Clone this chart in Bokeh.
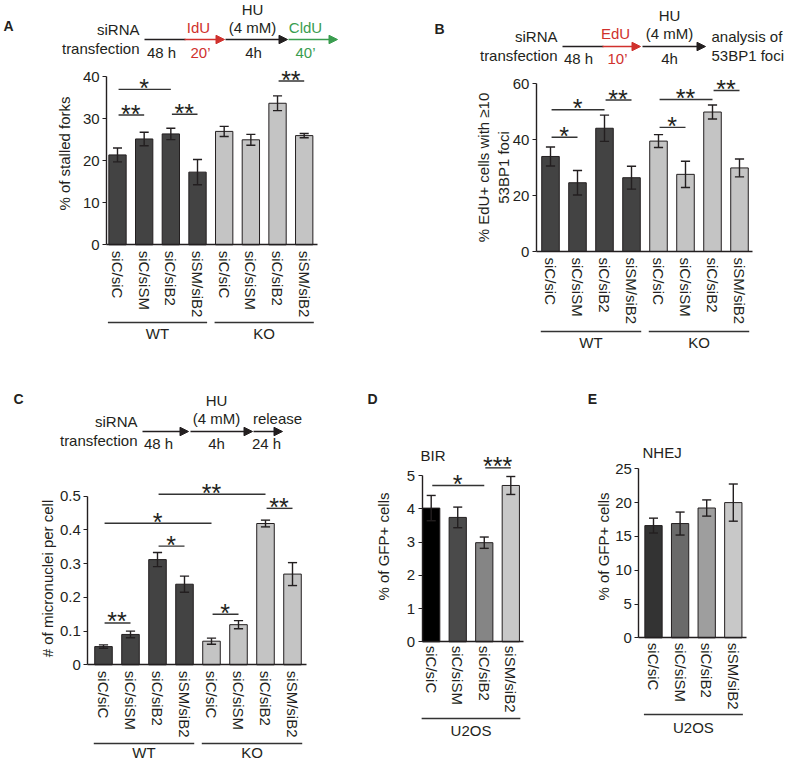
from bokeh.plotting import figure
from bokeh.models import Range1d, LinearAxis, FixedTicker, Arrow, NormalHead
from bokeh.core.properties import value
from bokeh.embed import file_html
from bokeh.resources import INLINE

# ---------------- data ----------------
conditions = ["siC/siC", "siC/siSM", "siC/siB2", "siSM/siB2"]
conditions8 = conditions + conditions
genotype_groups = [("WT", 0, 3), ("KO", 4, 7)]
cell_groups = [("U2OS", 0, 3)]

# A: % of stalled forks
a_values = [21.4, 25.2, 26.4, 17.3, 27.0, 25.0, 33.7, 26.0]
a_errors = [1.65, 1.6, 1.35, 3.0, 1.2, 1.3, 1.75, 0.5]
a_ticks = [0, 10, 20, 30, 40]
a_sig = [(0, 2, 37.0, "*"), (0, 1, 30.9, "**"), (2, 3, 31.1, "**"), (6, 7, 39.0, "**")]

# B: % EdU+ cells with >=10 53BP1 foci
b_values = [34.0, 24.6, 44.1, 26.4, 39.5, 27.6, 49.9, 29.9]
b_errors = [3.4, 4.4, 4.7, 4.1, 2.3, 4.7, 2.5, 3.2]
b_ticks = [0, 20, 40, 60]
b_sig = [(0, 2, 50.7, "*"), (0, 1, 40.9, "*"), (2, 3, 54.2, "**"),
         (4, 6, 54.4, "**"), (4, 5, 44.4, "*"), (6, 7, 57.6, "**")]

# C: # of micronuclei per cell
c_values = [0.054, 0.090, 0.312, 0.239, 0.070, 0.119, 0.419, 0.269]
c_errors = [0.005, 0.010, 0.021, 0.024, 0.009, 0.012, 0.010, 0.034]
c_ticks = [0, 0.1, 0.2, 0.3, 0.4, 0.5]
c_tick_labels = ["0", "0.1", "0.2", "0.3", "0.4", "0.5"]
c_sig = [(0, 1, 0.124, "**"), (0, 4, 0.420, "*"), (2, 3, 0.352, "*"),
         (2, 6, 0.506, "**"), (4, 5, 0.150, "*"), (6, 7, 0.464, "**")]

# D: BIR, % of GFP+ cells
d_values = [4.02, 3.74, 2.98, 4.70]
d_errors = [0.38, 0.31, 0.17, 0.27]
d_ticks = [0, 1, 2, 3, 4, 5]
d_sig = [(0, 2, 4.70, "*"), (2, 3, 5.23, "***")]

# E: NHEJ, % of GFP+ cells
e_values = [16.6, 16.9, 19.2, 20.0]
e_errors = [1.1, 1.7, 1.2, 2.75]
e_ticks = [0, 5, 10, 15, 20, 25]

# ---------------- style ----------------
FONT = "Liberation Sans"
TXT = "#231f20"
DARK = "#434343"
LIGHT = "#c4c4c4"
RED = "#d0312d"
GREEN = "#3a9d4f"
FS = "15px"
ab_colors = [DARK] * 4 + [LIGHT] * 4
d_colors = ["#000000", "#4a4a4a", "#858585", "#c8c8c8"]
e_colors = ["#333333", "#6a6a6a", "#9e9e9e", "#c8c8c8"]

W, H = 787, 761
X0, Y0 = 0, 0  # page offset of the canvas

p = figure(width=W, height=H, x_range=Range1d(X0, X0 + W), y_range=Range1d(Y0 + H, Y0),
           x_axis_type=None, y_axis_type=None, toolbar_location=None,
           output_backend="svg", min_border=0, outline_line_color=None)
p.min_border_left = p.min_border_right = p.min_border_top = p.min_border_bottom = 0
p.background_fill_color = "white"
p.border_fill_color = "white"


def txt(x, y, s, size=FS, align="center", baseline="middle", angle=0.0, color=TXT,
        bold=False, xr="default", yr="default", font=FONT, y_offset=0):
    p.text(x=[x], y=[y], text=[s], text_font=value(font), text_font_size=size,
           text_align=align, text_baseline=baseline, angle=angle, text_color=color,
           text_font_style="bold" if bold else "normal",
           x_range_name=xr, y_range_name=yr, y_offset=y_offset)


def line(x0, x1, y, color=TXT, width=1.4):
    p.segment(x0=[x0], y0=[y], x1=[x1], y1=[y], line_color=color, line_width=width)


def arrow(x0, x1, y, color=TXT):
    p.add_layout(Arrow(x_start=x0, y_start=y, x_end=x1, y_end=y, line_color=color,
                       line_width=1.6,
                       end=NormalHead(size=8.5, fill_color=color, line_color=color,
                                      line_width=1)))


def chart(key, vals, errs, colors, labels, x_first, x_last, y_zero, y_top_px, ytop,
          yticks, xl, xr, standoff, sig=(), groups=(), group_y=0, group_label_y=0,
          overrides=None):
    n = len(vals)
    sx = (x_last - x_first) / (n - 1)
    xn, yn = "x" + key, "y" + key
    p.extra_x_ranges[xn] = Range1d(-(x_first - X0) / sx, (X0 + W - x_first) / sx)
    sy = (y_zero - y_top_px) / ytop
    p.extra_y_ranges[yn] = Range1d(-(Y0 + H - y_zero) / sy, (y_zero - Y0) / sy)
    idx = list(range(n))
    p.vbar(x=idx, top=vals, bottom=0, width=0.65, fill_color=colors, line_color=TXT,
           line_width=1, x_range_name=xn, y_range_name=yn)
    lo = [v - e for v, e in zip(vals, errs)]
    hi = [v + e for v, e in zip(vals, errs)]
    p.segment(x0=idx, y0=lo, x1=idx, y1=hi, line_color=TXT, line_width=1.4,
              x_range_name=xn, y_range_name=yn)
    cap = 0.17
    p.segment(x0=[i - cap for i in idx] * 2, y0=lo + hi, x1=[i + cap for i in idx] * 2,
              y1=lo + hi, line_color=TXT, line_width=1.4, x_range_name=xn, y_range_name=yn)

    yax = LinearAxis(x_range_name=xn, y_range_name=yn, fixed_location=xl, bounds=(0, ytop),
                     ticker=FixedTicker(ticks=yticks), axis_line_color=TXT,
                     axis_line_width=1.4, major_tick_line_color=TXT, major_tick_line_width=1.2,
                     major_tick_out=4, major_tick_in=0, minor_tick_line_color=None,
                     major_label_standoff=3, major_label_text_font=FONT,
                     major_label_text_font_size=FS, major_label_text_color=TXT)
    if overrides:
        yax.major_label_overrides = overrides
    p.add_layout(yax, "left")
    xax = LinearAxis(x_range_name=xn, y_range_name=yn, fixed_location=0, bounds=(xl, xr),
                     ticker=FixedTicker(ticks=idx),
                     major_label_overrides={i: lab for i, lab in enumerate(labels)},
                     major_label_orientation="vertical", axis_line_color=TXT,
                     axis_line_width=1.4, major_tick_line_color=None, major_tick_out=0,
                     major_tick_in=0, minor_tick_line_color=None,
                     major_label_standoff=standoff, major_label_text_font=FONT,
                     major_label_text_font_size=FS, major_label_text_color=TXT)
    p.add_layout(xax, "below")

    for i, j, yv, stars in sig:
        p.segment(x0=[i + 0.04], y0=[yv], x1=[j], y1=[yv], line_color="#333333",
                  line_width=1.4, x_range_name=xn, y_range_name=yn)
        txt((i + j) / 2, yv, stars, size="25px", baseline="alphabetic", xr=xn, yr=yn,
            y_offset=-1.5)
    for g, a, b in groups:
        p.segment(x0=[a - 0.36], y0=[group_y], x1=[b + 0.36], y1=[group_y],
                  line_color="#333333", line_width=1.4, x_range_name=xn)
        txt((a + b) / 2, group_label_y, g, xr=xn)


# ---------------- panel A ----------------
txt(8, 25, "A", size="14px", bold=True)
txt(139, 29, "siRNA", align="right")
txt(139, 48, "transfection", align="right")
line(144, 185, 39)
arrow(184, 224, 39, RED)
arrow(225, 287, 39)
arrow(288, 337, 39, GREEN)
txt(161, 52, "48 h")
txt(198, 27, "IdU", color=RED)
txt(200, 52, "20\u2019", color=RED)
txt(252, 8.5, "HU")
txt(252, 27, "(4 mM)")
txt(253, 52, "4h")
txt(305, 27, "CldU", color=GREEN)
txt(305, 52, "40\u2019", color=GREEN)
txt(64, 153, "% of stalled forks", angle=1.5708)
chart("A", a_values, a_errors, ab_colors, conditions8, 117, 303.7, 244.3, 76.3, 40,
      a_ticks, -0.41, 7.5, 6, sig=a_sig, groups=genotype_groups, group_y=322,
      group_label_y=333)

# ---------------- panel B ----------------
txt(439, 28, "B", size="14px", bold=True)
txt(557, 36, "siRNA", align="right")
txt(557, 55, "transfection", align="right")
line(562, 603, 46)
arrow(602, 640, 46, RED)
arrow(642, 705, 46)
txt(578, 58, "48 h")
txt(615, 33, "EdU", color=RED)
txt(617, 58, "10\u2019", color=RED)
txt(669, 15, "HU")
txt(669, 33, "(4 mM)")
txt(669, 58, "4h")
txt(711, 36, "analysis of", align="left")
txt(711, 55, "53BP1 foci", align="left")
txt(483, 167, "% EdU+ cells with \u226510", angle=1.5708)
txt(503, 167, "53BP1 foci", angle=1.5708)
chart("B", b_values, b_errors, ab_colors, conditions8, 550, 739, 251, 83.3, 60,
      b_ticks, -0.52, 7.48, 6, sig=b_sig, groups=genotype_groups, group_y=331,
      group_label_y=342)

# ---------------- panel C ----------------
txt(18, 398, "C", size="14px", bold=True)
txt(137, 421, "siRNA", align="right")
txt(137, 440, "transfection", align="right")
arrow(142, 188, 431)
arrow(190, 252, 431)
arrow(253, 282, 431)
txt(158, 443, "48 h")
txt(216, 400, "HU")
txt(216, 418, "(4 mM)")
txt(216, 443, "4h")
txt(277, 418, "release")
txt(266, 443, "24 h")
txt(47, 578, "# of micronuclei per cell", angle=1.5708)
chart("C", c_values, c_errors, ab_colors, conditions8, 103, 292, 664.3, 495.7, 0.5,
      c_ticks, -0.58, 7.5, 6, sig=c_sig, groups=genotype_groups, group_y=743,
      group_label_y=752, overrides=dict(zip(c_ticks, c_tick_labels)))

# ---------------- panel D ----------------
txt(372, 398, "D", size="14px", bold=True)
txt(420, 455, "BIR", align="left")
txt(383, 546, "% of GFP+ cells", angle=1.5708)
chart("D", d_values, d_errors, d_colors, conditions, 430.7, 510.3, 641.3, 475, 5,
      d_ticks, -0.34, 3.49, 4, sig=d_sig, groups=cell_groups, group_y=718,
      group_label_y=730)

# ---------------- panel E ----------------
txt(592, 398, "E", size="14px", bold=True)
txt(642, 452, "NHEJ", align="left")
txt(603, 546, "% of GFP+ cells", angle=1.5708)
chart("E", e_values, e_errors, e_colors, conditions, 653, 732.8, 637.3, 468.3, 25,
      e_ticks, -0.55, 3.48, 5, groups=cell_groups, group_y=714, group_label_y=727)

open("out.html", "w").write(file_html(p, INLINE))
